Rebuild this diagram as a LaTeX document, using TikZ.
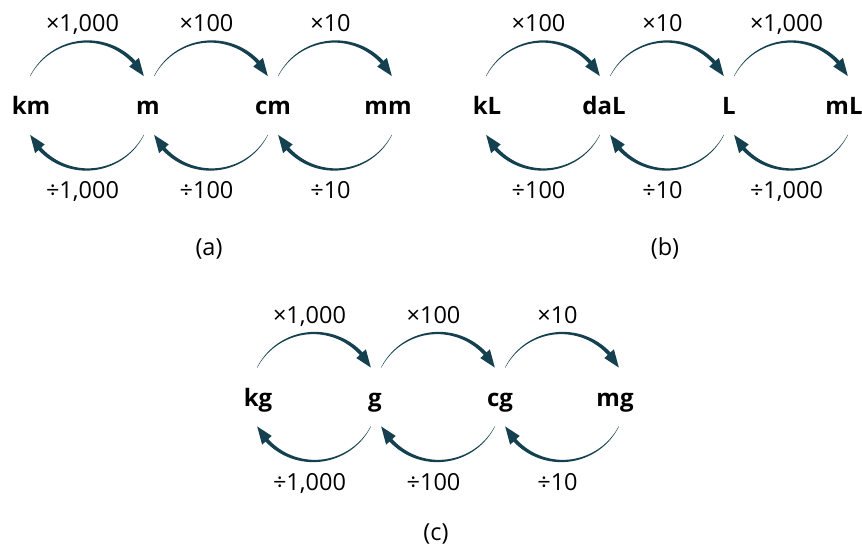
\documentclass[tikz,border=0pt]{standalone}
\usepackage{fontspec}
\setmainfont{Open Sans}
\usepackage{tikz}
\usetikzlibrary{calc}

\definecolor{arcteal}{HTML}{15404F}
\tikzset{
  unit/.style={font=\fontsize{24}{28}\selectfont\bfseries, anchor=base, inner sep=0pt},
  factor/.style={font=\fontsize{23.5}{28}\selectfont, anchor=base, inner sep=0pt},
  caption/.style={font=\fontsize{23.5}{28}\selectfont, anchor=base, inner sep=0pt}
}
% tapered arc with a head, round centre #1, starting at angle #2
\newcommand{\convarc}[2]{%
  \begin{scope}[shift={(#1)}]
    \fill[arcteal] plot[domain=0:1,samples=40] ({(64+0.15+1.75*\x)*cos(#2-110.5*\x)},{(64+0.15+1.75*\x)*sin(#2-110.5*\x)})
      -- plot[domain=1:0,samples=40] ({(64-0.15-1.75*\x)*cos(#2-110.5*\x)},{(64-0.15-1.75*\x)*sin(#2-110.5*\x)}) -- cycle;
    \fill[arcteal] (#2-125.2:64pt) -- (#2-110:70.5pt) -- (#2-110:57.5pt) -- cycle;
  \end{scope}}

\begin{document}
\begin{tikzpicture}[x=1pt,y=1pt]
  \useasboundingbox (0,0) rectangle (862,551);
  % one row per family: name / left end / centre height / caption height / units / factors
  \foreach \r/\s/\cy/\cb/\ua/\ub/\uc/\ud/\fa/\fb/\fc in {%
      a/30/445.5/295/km/m/cm/mm/1{,}000/100/10,
      b/486/445.5/295/kL/daL/L/mL/100/10/1{,}000,
      c/257/154/10/kg/g/cg/mg/1{,}000/100/10}{
    % units
    \node[unit] (\r-u1) at (\s+1,\cy-9.5) {\ua};
    \node[unit] (\r-u2) at (\s+118,\cy-9.5) {\ub};
    \node[unit] (\r-u3) at (\s+243,\cy-9.5) {\uc};
    \node[unit] (\r-u4) at (\s+358,\cy-9.5) {\ud};
    % arcs: multiply above, divide below
    \foreach \i/\f in {1/\fa,2/\fb,3/\fc}{
      \coordinate (\r-c\i) at (\s+57+124*\i-124,\cy);
      \convarc{\r-c\i}{152.6}
      \convarc{\r-c\i}{-27.4}
      \node[factor] (\r-t\i) at ($(\r-c\i)+(-4.5,73.5)$) {×\f};
      \node[factor] (\r-b\i) at ($(\r-c\i)+(-4.5,-93.5)$) {÷\f};
    }
    \node[caption] (\r-cap) at (\s+179,\cb) {(\r)};
  }
\end{tikzpicture}
\end{document}
